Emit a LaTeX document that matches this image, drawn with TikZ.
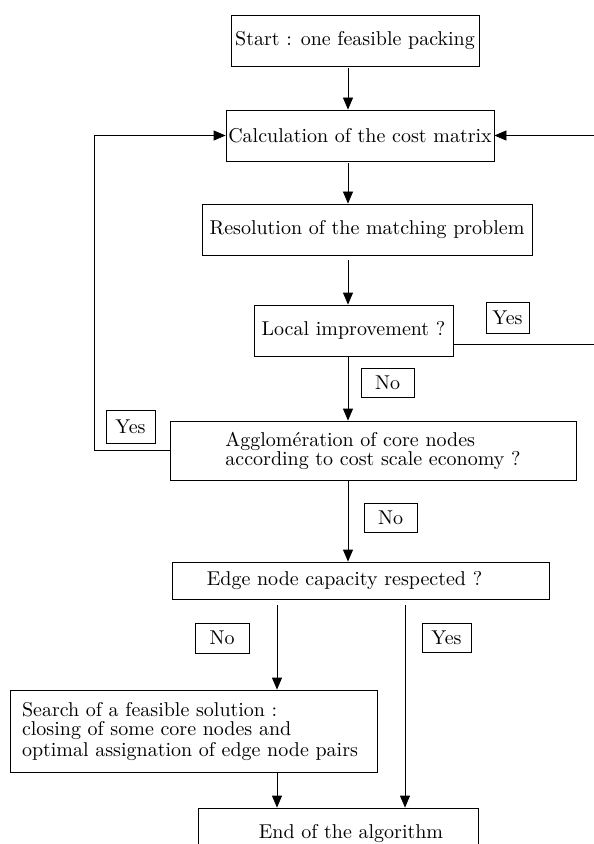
\documentclass[tikz,border=0pt]{standalone}
\usetikzlibrary{arrows.meta}

\begin{document}
\begin{tikzpicture}[x=0.5pt,y=-0.5pt,
  stepbox/.style={draw,inner sep=0pt},
  tag/.style={draw,inner sep=0pt},
  flow/.style={-{Triangle[length=6pt,width=5pt]}}]
  \useasboundingbox (0,0) rectangle (593,844);
  % main boxes
  \node[stepbox,minimum width=124pt,minimum height=25.5pt] (start) at (355,40.5) {Start : one feasible packing};
  \node[stepbox,minimum width=134pt,minimum height=25.5pt] (calc) at (360,135.5) {Calculation of the cost matrix};
  \node[stepbox,minimum width=165pt,minimum height=25.5pt] (resol) at (367,229.5) {Resolution of the matching problem};
  \node[stepbox,minimum width=99.5pt,minimum height=25.5pt] (local) at (353.5,330.5) {Local improvement ?};
  \node[stepbox,minimum width=203pt,minimum height=29.5pt,align=left,font=\fontsize{10}{9.5}\selectfont] (agglo) at (373,450.5)
    {Agglom\'eration of core nodes\\according to cost scale economy ?};
  \node[stepbox,minimum width=188.5pt,minimum height=18.5pt] (edge) at (360.5,580.5) {Edge node capacity respected ?\hspace*{16pt}};
  \node[stepbox,minimum width=183.5pt,minimum height=41pt,align=left,font=\fontsize{10}{10}\selectfont] (search) at (193.5,731)
    {Search of a feasible solution :\\closing of some core nodes and\\optimal assignation of edge node pairs\hspace*{3.5pt}};
  \node[stepbox,minimum width=140pt,minimum height=25pt] (finish) at (338,833) {\hspace*{13pt}End of the algorithm};
  % answer tags
  \node[tag,minimum width=21.5pt,minimum height=15.5pt] (yesR) at (507.5,317.5) {Yes};
  \node[tag,minimum width=26.5pt,minimum height=14.5pt] (noA) at (387.5,382.5) {No};
  \node[tag,minimum width=24.5pt,minimum height=16.5pt] (yesL) at (130.5,426.5) {Yes};
  \node[tag,minimum width=26.5pt,minimum height=14.5pt] (noB) at (390.5,517.5) {No};
  \node[tag,minimum width=27pt,minimum height=15pt] (noC) at (222,638) {No};
  \node[tag,minimum width=24.5pt,minimum height=14.5pt] (yesC) at (446.5,637.5) {Yes};
  % columns of the connectors
  \coordinate (spine) at (348,0);
  \coordinate (loopL) at (94,0);
  \coordinate (loopR) at (600,0);
  \coordinate (colNo) at (277,0);
  \coordinate (colYes) at (405,0);
  % connectors
  \draw[flow,shorten <=1pt] (start.south -| spine) -- (calc.north -| spine);
  \draw[flow,shorten <=1pt] (calc.south -| spine) -- (resol.north -| spine);
  \draw[flow,shorten <=2.5pt] (resol.south -| spine) -- (local.north -| spine);
  \draw[flow] (local.south -| spine) -- (agglo.north -| spine);
  \draw[flow] (agglo.south -| spine) -- (edge.north -| spine);
  \draw[flow,shorten <=3pt] (edge.south -| colNo) -- (search.north -| colNo);
  \draw[flow,shorten <=3pt] (edge.south -| colYes) -- (finish.north -| colYes);
  \draw[flow] (search.south -| colNo) -- (finish.north -| colNo);
  \draw[flow] ([yshift=-6.75pt]local.east) -| (loopR |- calc.east) -- (calc.east);
  \draw[flow] (agglo.west) -| (loopL |- calc.west) -- (calc.west);
\end{tikzpicture}
\end{document}
